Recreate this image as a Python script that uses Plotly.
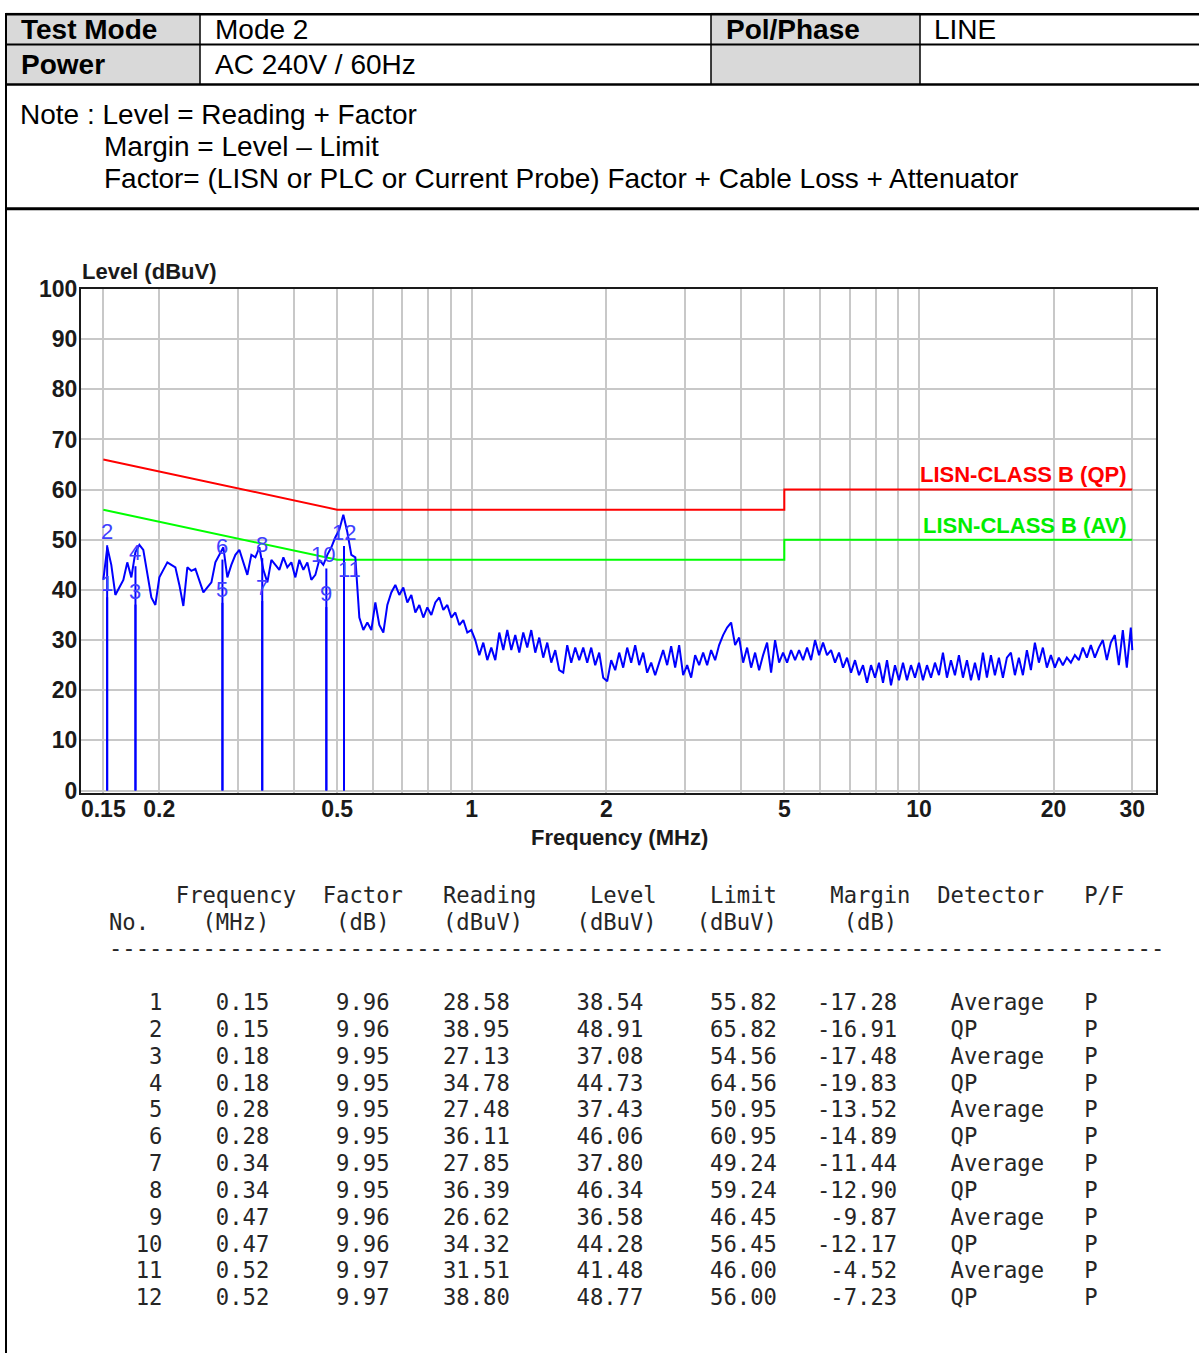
import math
import plotly.graph_objects as go

W, H = 1199, 1364

# ---------------- data ----------------
trace_freq = [
    0.1500, 0.1531, 0.1563, 0.1596, 0.1629, 0.1663, 0.1697, 0.1733, 0.1769, 0.1806,
    0.1843, 0.1882, 0.1921, 0.1961, 0.2002, 0.2043, 0.2086, 0.2129, 0.2174, 0.2219,
    0.2265, 0.2312, 0.2360, 0.2410, 0.2460, 0.2511, 0.2563, 0.2617, 0.2671, 0.2727,
    0.2783, 0.2841, 0.2900, 0.2961, 0.3022, 0.3085, 0.3149, 0.3215, 0.3282, 0.3350,
    0.3420, 0.3491, 0.3564, 0.3638, 0.3713, 0.3791, 0.3869, 0.3950, 0.4032, 0.4116,
    0.4202, 0.4289, 0.4378, 0.4469, 0.4562, 0.4657, 0.4754, 0.4853, 0.4954, 0.5057,
    0.5162, 0.5270, 0.5379, 0.5491, 0.5606, 0.5722, 0.5841, 0.5963, 0.6087, 0.6213,
    0.6343, 0.6475, 0.6609, 0.6747, 0.6887, 0.7030, 0.7177, 0.7326, 0.7479, 0.7634,
    0.7793, 0.7955, 0.8121, 0.8290, 0.8462, 0.8638, 0.8818, 0.9001, 0.9189, 0.9380,
    0.9575, 0.9774, 0.9977, 1.0184, 1.0396, 1.0612, 1.0833, 1.1058, 1.1288, 1.1523,
    1.1763, 1.2007, 1.2257, 1.2512, 1.2772, 1.3037, 1.3308, 1.3585, 1.3868, 1.4156,
    1.4450, 1.4751, 1.5058, 1.5371, 1.5690, 1.6017, 1.6350, 1.6690, 1.7037, 1.7391,
    1.7753, 1.8122, 1.8499, 1.8883, 1.9276, 1.9677, 2.0086, 2.0504, 2.0930, 2.1365,
    2.1810, 2.2263, 2.2726, 2.3199, 2.3681, 2.4174, 2.4676, 2.5190, 2.5713, 2.6248,
    2.6794, 2.7351, 2.7920, 2.8500, 2.9093, 2.9698, 3.0316, 3.0946, 3.1590, 3.2247,
    3.2917, 3.3602, 3.4301, 3.5014, 3.5742, 3.6485, 3.7244, 3.8018, 3.8809, 3.9616,
    4.0440, 4.1281, 4.2139, 4.3015, 4.3910, 4.4823, 4.5755, 4.6706, 4.7677, 4.8669,
    4.9681, 5.0714, 5.1768, 5.2845, 5.3944, 5.5065, 5.6210, 5.7379, 5.8572, 5.9790,
    6.1033, 6.2302, 6.3598, 6.4920, 6.6270, 6.7648, 6.9055, 7.0491, 7.1957, 7.3453,
    7.4980, 7.6539, 7.8131, 7.9755, 8.1414, 8.3107, 8.4835, 8.6599, 8.8400, 9.0238,
    9.2114, 9.4030, 9.5985, 9.7981, 10.002, 10.210, 10.422, 10.639, 10.860, 11.086,
    11.316, 11.552, 11.792, 12.037, 12.287, 12.543, 12.804, 13.070, 13.342, 13.619,
    13.902, 14.191, 14.486, 14.788, 15.095, 15.409, 15.729, 16.056, 16.390, 16.731,
    17.079, 17.434, 17.797, 18.167, 18.545, 18.930, 19.324, 19.726, 20.136, 20.555,
    20.982, 21.418, 21.864, 22.318, 22.782, 23.256, 23.740, 24.233, 24.737, 25.252,
    25.777, 26.313, 26.860, 27.418, 27.989, 28.571, 29.165, 29.771, 30.000]

trace_level = [
    42.0, 48.5, 45.0, 39.0, 40.5, 42.0, 45.5, 42.5, 47.5, 49.0,
    48.0, 43.5, 38.5, 37.0, 42.5, 44.0, 45.5, 45.0, 44.5, 41.0,
    36.8, 44.5, 43.8, 44.2, 42.0, 39.5, 40.5, 41.5, 45.5, 47.0,
    48.5, 42.5, 45.0, 47.0, 48.0, 45.5, 43.0, 47.0, 46.5, 48.5,
    44.0, 41.5, 46.0, 45.0, 44.0, 46.5, 44.5, 45.5, 42.5, 46.0,
    44.0, 45.5, 42.0, 43.0, 46.0, 45.0, 47.0, 48.5, 50.5, 52.0,
    55.0, 51.5, 47.0, 46.5, 34.5, 32.0, 33.5, 32.0, 37.5, 33.0,
    31.5, 37.0, 39.5, 41.0, 39.0, 40.5, 37.5, 39.0, 35.5, 37.0,
    34.5, 36.5, 35.0, 37.5, 38.5, 36.0, 37.0, 34.5, 35.5, 33.0,
    34.0, 31.5, 32.0, 30.0, 27.0, 29.5, 26.0, 28.5, 26.0, 31.5,
    28.0, 32.0, 28.0, 31.0, 27.5, 31.5, 28.5, 32.0, 27.5, 30.5,
    26.5, 29.5, 25.5, 28.0, 24.0, 23.5, 29.0, 25.5, 28.5, 26.0,
    28.5, 25.5, 28.5, 25.0, 27.5, 22.5, 21.8, 26.0, 24.0, 27.5,
    24.5, 28.5, 25.5, 29.0, 25.0, 27.5, 23.5, 25.5, 23.0, 25.5,
    28.0, 25.0, 28.8, 24.5, 29.0, 23.0, 25.0, 22.5, 27.0, 25.0,
    27.5, 25.0, 28.0, 26.0, 29.0, 31.0, 32.5, 33.5, 29.0, 30.5,
    25.5, 28.5, 24.5, 27.5, 24.0, 27.0, 29.5, 23.5, 30.0, 25.5,
    27.5, 25.5, 28.0, 26.0, 28.0, 26.0, 28.5, 26.0, 30.0, 27.0,
    29.5, 27.0, 28.0, 25.5, 27.5, 24.5, 26.5, 23.5, 26.0, 23.0,
    25.0, 21.5, 25.0, 22.5, 25.5, 21.5, 26.0, 21.0, 25.0, 22.0,
    25.5, 22.0, 25.0, 22.5, 25.5, 22.0, 25.0, 22.5, 25.5, 23.0,
    27.5, 22.5, 26.0, 23.0, 27.0, 22.5, 26.0, 22.0, 25.5, 22.0,
    27.5, 22.5, 27.0, 23.0, 26.5, 22.5, 26.5, 27.5, 23.0, 26.5,
    23.0, 28.0, 24.0, 29.5, 25.5, 28.5, 24.5, 27.0, 24.5, 26.5,
    25.0, 26.5, 25.5, 27.0, 26.0, 28.5, 26.5, 29.0, 26.5, 28.5,
    30.0, 26.0, 29.5, 31.0, 25.0, 32.0, 24.5, 32.5, 28.0]

qp_limit_freq = [0.15, 0.5, 5.0, 5.0, 30.0]
qp_limit_level = [66.0, 56.0, 56.0, 60.0, 60.0]
av_limit_freq = [0.15, 0.5, 5.0, 5.0, 30.0]
av_limit_level = [56.0, 46.0, 46.0, 50.0, 50.0]

marker_no = [1, 2, 3, 4, 5, 6, 7, 8, 9, 10, 11, 12]
marker_freq = [0.153, 0.153, 0.177, 0.177, 0.277, 0.277, 0.340, 0.340, 0.473, 0.473, 0.518, 0.518]
marker_factor = [9.96, 9.96, 9.95, 9.95, 9.95, 9.95, 9.95, 9.95, 9.96, 9.96, 9.97, 9.97]
marker_reading = [28.58, 38.95, 27.13, 34.78, 27.48, 36.11, 27.85, 36.39, 26.62, 34.32, 31.51, 38.80]
marker_level = [38.54, 48.91, 37.08, 44.73, 37.43, 46.06, 37.80, 46.34, 36.58, 44.28, 41.48, 48.77]
marker_limit = [55.82, 65.82, 54.56, 64.56, 50.95, 60.95, 49.24, 59.24, 46.45, 56.45, 46.00, 56.00]
marker_margin = [-17.28, -16.91, -17.48, -19.83, -13.52, -14.89, -11.44, -12.90, -9.87, -12.17, -4.52, -7.23]
marker_detector = ["Average", "QP"] * 6
marker_pf = ["P"] * 12

x_grid_vals = [0.15, 0.2, 0.3, 0.4, 0.5, 0.6, 0.7, 0.8, 0.9, 1, 2, 3, 4, 5, 6, 7, 8, 9, 10, 20, 30]
x_label_vals = [0.15, 0.2, 0.5, 1, 2, 5, 10, 20, 30]
x_label_text = ["0.15", "0.2", "0.5", "1", "2", "5", "10", "20", "30"]
y_tick_vals = [0, 10, 20, 30, 40, 50, 60, 70, 80, 90, 100]

header_rows = [["Test Mode", "Mode 2", "Pol/Phase", "LINE"],
               ["Power", "AC 240V / 60Hz", "", ""]]
note_lines = ["Note : Level = Reading + Factor",
              "Margin = Level \u2013 Limit",
              "Factor= (LISN or PLC or Current Probe) Factor + Cable Loss + Attenuator"]

# ---------------- helpers ----------------
# the captured page is drawn slightly squeezed vertically; compensate positions
V_OFF, V_SC = 12.5, 0.9817


def px(x):
    return x / W


def py(y):
    yf = (y - V_OFF) / V_SC
    return 1 - yf / H


SANS = "Liberation Sans, Arial, sans-serif"
MONO = "DejaVu Sans Mono, monospace"
BLUE = "#0000ff"
GRID = "#c8c8c8"

fig = go.Figure()

# limit lines
fig.add_trace(go.Scatter(x=qp_limit_freq, y=qp_limit_level, mode="lines",
                         line=dict(color="#ff0000", width=2), hoverinfo="skip"))
fig.add_trace(go.Scatter(x=av_limit_freq, y=av_limit_level, mode="lines",
                         line=dict(color="#00ff00", width=2), hoverinfo="skip"))
# spectrum
fig.add_trace(go.Scatter(x=trace_freq, y=trace_level, mode="lines",
                         line=dict(color=BLUE, width=2), hoverinfo="skip"))
# marker vertical lines
mx, my = [], []
for f, lv in zip(marker_freq, marker_level):
    mx += [f, f, None]
    my += [0, lv, None]
fig.add_trace(go.Scatter(x=mx, y=my, mode="lines",
                         line=dict(color=BLUE, width=2), hoverinfo="skip"))

annotations = []
# marker numbers
label_dx = {10: -3, 11: 5}
for n, f, lv in zip(marker_no, marker_freq, marker_level):
    annotations.append(dict(x=math.log10(f), y=lv, xref="x", yref="y", text=str(n),
                            showarrow=False, xanchor="center", yanchor="bottom",
                            xshift=label_dx.get(n, 0), borderpad=0,
                            font=dict(family=SANS, size=22, color="#4040ff")))

# chart titles
annotations.append(dict(x=px(81), y=py(271), xref="paper", yref="paper", text="Level (dBuV)",
                        showarrow=False, xanchor="left", yanchor="middle", borderpad=0,
                        font=dict(family=SANS, size=22, color="#1a1a1a", weight="bold")))
annotations.append(dict(x=px(619), y=py(836), xref="paper", yref="paper", text="Frequency (MHz)",
                        showarrow=False, xanchor="center", yanchor="middle", borderpad=0,
                        font=dict(family=SANS, size=22, color="#1a1a1a", weight="bold")))
annotations.append(dict(x=px(1128), y=py(474), xref="paper", yref="paper", text="LISN-CLASS B (QP)",
                        showarrow=False, xanchor="right", yanchor="middle", borderpad=0,
                        font=dict(family=SANS, size=22, color="#ff0000", weight="bold")))
annotations.append(dict(x=px(1128), y=py(525), xref="paper", yref="paper", text="LISN-CLASS B (AV)",
                        showarrow=False, xanchor="right", yanchor="middle", borderpad=0,
                        font=dict(family=SANS, size=22, color="#00ee00", weight="bold")))

# header table
shapes = []
for (x0, x1) in [(6, 200), (711, 920)]:
    shapes.append(dict(type="rect", xref="paper", yref="paper", x0=px(x0), x1=px(x1),
                       y0=py(84), y1=py(12), fillcolor="#d9d9d9", line=dict(width=0), layer="below"))
for yy, wdt in [(13.8, 2.5), (44, 2), (84, 2.5), (208, 3)]:
    shapes.append(dict(type="line", xref="paper", yref="paper", x0=px(5), x1=1,
                       y0=py(yy), y1=py(yy), line=dict(color="#000000", width=wdt)))
shapes.append(dict(type="line", xref="paper", yref="paper", x0=px(6), x1=px(6),
                   y0=py(13), y1=0, line=dict(color="#000000", width=2)))
for xx in [200, 711, 920]:
    shapes.append(dict(type="line", xref="paper", yref="paper", x0=px(xx), x1=px(xx),
                       y0=py(84), y1=py(13), line=dict(color="#000000", width=1.5)))

col_x = [20, 214, 725, 933]
bold_col = [True, False, True, False]
row_y = [29, 64]
for r, row in enumerate(header_rows):
    for c, txt in enumerate(row):
        if not txt:
            continue
        annotations.append(dict(x=px(col_x[c]), y=py(row_y[r]), xref="paper", yref="paper",
                                text=txt, showarrow=False, xanchor="left", yanchor="middle",
                                borderpad=0,
                                font=dict(family=SANS, size=28, color="#000000",
                                          weight="bold" if bold_col[c] else "normal")))
note_x = [19, 103, 103]
note_y = [114, 146, 178]
for t, xx, yy in zip(note_lines, note_x, note_y):
    annotations.append(dict(x=px(xx), y=py(yy), xref="paper", yref="paper", text=t,
                            showarrow=False, xanchor="left", yanchor="middle", borderpad=0,
                            font=dict(family=SANS, size=28, color="#000000")))

# results table (monospace text)
def place(words, width=80):
    buf = [" "] * width
    for col, w in words:
        for i, ch in enumerate(w):
            buf[col + i] = ch
    return "".join(buf).rstrip()


hdr1 = place([(5, "Frequency"), (16, "Factor"), (25, "Reading"), (36, "Level"),
              (45, "Limit"), (54, "Margin"), (62, "Detector"), (73, "P/F")])
hdr2 = place([(0, "No."), (7, "(MHz)"), (17, "(dB)"), (25, "(dBuV)"), (35, "(dBuV)"),
              (44, "(dBuV)"), (55, "(dB)")])
dash = "-" * 79
rows = []
for i in range(len(marker_no)):
    rows.append(f"{marker_no[i]:>4}{marker_freq[i]:>8.2f}{marker_factor[i]:>9.2f}"
                f"{marker_reading[i]:>9.2f}{marker_level[i]:>10.2f}{marker_limit[i]:>10.2f}"
                f"{marker_margin[i]:>9.2f}    {marker_detector[i]:<10}{marker_pf[i]}")

table_lines = [(hdr1, 894), (hdr2, 921), (dash, 947)]
for i, r in enumerate(rows):
    table_lines.append((r, 1001 + 26.8 * i))
for txt, yy in table_lines:
    annotations.append(dict(x=px(108), y=py(yy), xref="paper", yref="paper",
                            text=txt.replace(" ", "\u00a0"), showarrow=False,
                            xanchor="left", yanchor="middle", borderpad=0,
                            font=dict(family=MONO, size=22.2, color="#262626")))

fig.update_layout(
    width=W, height=H, margin=dict(l=0, r=0, t=0, b=0),
    paper_bgcolor="white", plot_bgcolor="white", showlegend=False,
    xaxis=dict(type="log", range=[-0.8738, 1.529], domain=[px(81), px(1155.5)],
               tickvals=x_grid_vals,
               ticktext=[x_label_text[x_label_vals.index(v)] if v in x_label_vals else "" for v in x_grid_vals],
               showgrid=True, gridcolor=GRID, gridwidth=2, ticks="", ticklabelstandoff=-5,
               showline=True, mirror=True, linecolor="#1a1a1a", linewidth=2,
               zeroline=False,
               tickfont=dict(family=SANS, size=23, color="#1a1a1a", weight="bold")),
    yaxis=dict(range=[-0.44, 100], domain=[py(791.7), py(288.3)],
               tickvals=y_tick_vals, showgrid=True, gridcolor=GRID, gridwidth=2, ticks="",
               ticklabelstandoff=-3,
               showline=True, mirror=True, linecolor="#1a1a1a", linewidth=2,
               zeroline=False,
               tickfont=dict(family=SANS, size=23, color="#1a1a1a", weight="bold")),
    annotations=annotations, shapes=shapes,
)

post = ("var d=document.getElementById('{plot_id}');"
        "d.style.position='absolute';d.style.left='0px';d.style.top='0px';"
        "document.documentElement.style.margin='0';document.body.style.margin='0';"
        "document.documentElement.style.overflow='hidden';document.body.style.overflow='hidden';")
fig.write_html("out.html", config={"displayModeBar": False}, post_script=post)
